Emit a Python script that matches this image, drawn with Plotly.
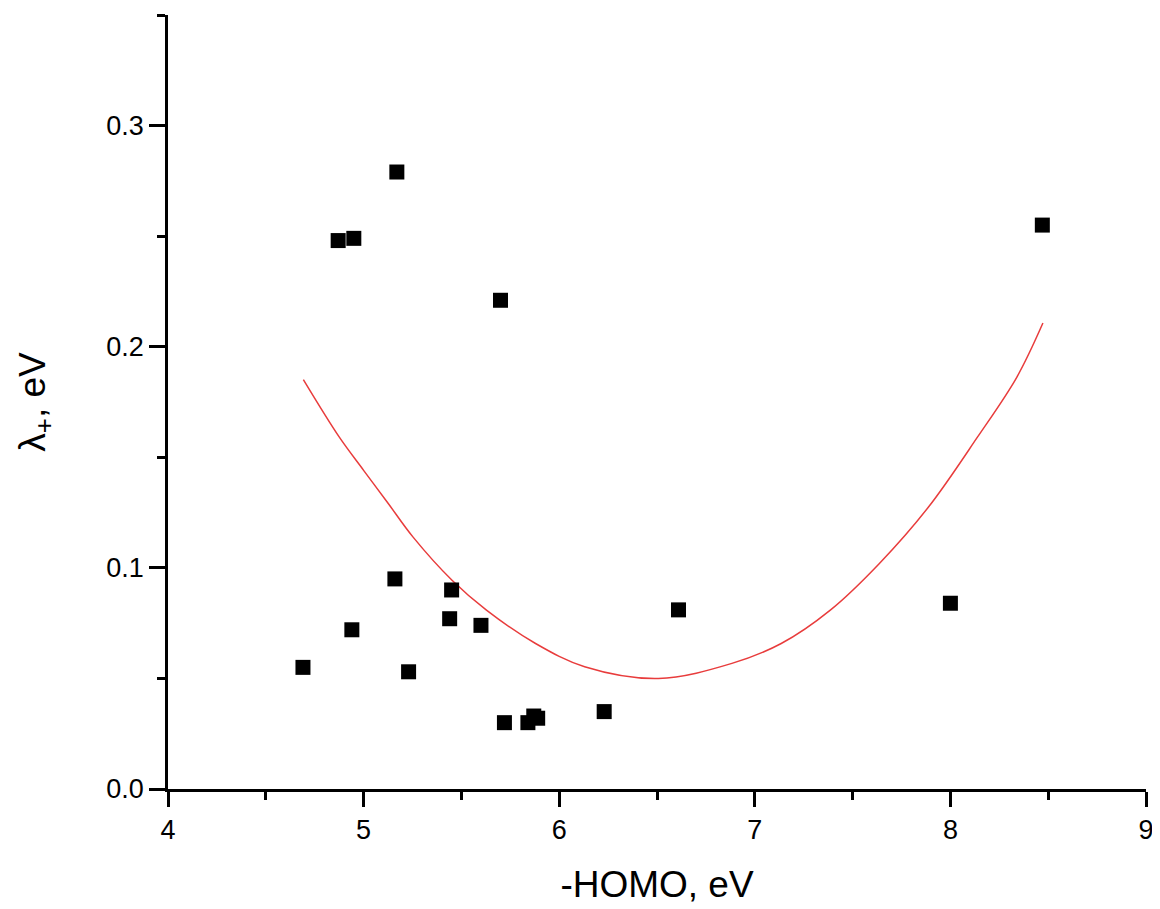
import plotly.graph_objects as go

homo = [4.69, 4.87, 4.95, 4.94, 5.17, 5.16, 5.23, 5.44, 5.45, 5.60,
        5.70, 5.72, 5.84, 5.87, 5.89, 6.23, 6.61, 8.00, 8.47]
lam = [0.055, 0.248, 0.249, 0.072, 0.279, 0.095, 0.053, 0.077, 0.090, 0.074,
       0.221, 0.030, 0.030, 0.033, 0.032, 0.035, 0.081, 0.084, 0.255]

fit_x = [4.692, 4.875, 5.000, 5.126, 5.252, 5.452, 5.628, 5.879, 6.130,
         6.507, 6.883, 7.135, 7.386, 7.637, 7.888, 8.139, 8.340, 8.473]
fit_y = [0.1851, 0.1592, 0.1441, 0.1291, 0.1140, 0.0944, 0.0809, 0.0658, 0.0553,
         0.0500, 0.0568, 0.0658, 0.0809, 0.1020, 0.1275, 0.1592, 0.1863, 0.2107]

fig = go.Figure()
fig.add_trace(go.Scatter(x=fit_x, y=fit_y, mode="lines",
                         line=dict(color="rgb(232,60,60)", width=1.5, shape="spline",
                                   smoothing=1.0),
                         showlegend=False, hoverinfo="skip"))
fig.add_trace(go.Scatter(x=homo, y=lam, mode="markers",
                         marker=dict(symbol="square", size=15, color="black",
                                     line=dict(width=0)),
                         showlegend=False))

font_family = "Liberation Sans, Arial, sans-serif"
fig.update_layout(
    width=1152, height=901,
    margin=dict(l=160, r=14, t=7, b=120),
    plot_bgcolor="white", paper_bgcolor="white",
    font=dict(family=font_family, color="black"),
    xaxis=dict(range=[4, 9], dtick=1, tick0=4, showgrid=False, zeroline=False,
               showline=True, linecolor="black", linewidth=2.5,
               ticks="outside", ticklen=15, tickwidth=2.5, tickcolor="black",
               minor=dict(dtick=0.5, tick0=4, ticks="outside", ticklen=8,
                          tickwidth=2.5, tickcolor="black", showgrid=False),
               tickfont=dict(size=27, family=font_family),
               title=dict(text="-HOMO, eV", font=dict(size=37, family=font_family),
                          standoff=27)),
    yaxis=dict(range=[0, 0.35], dtick=0.1, tick0=0, tickformat=".1f",
               showgrid=False, zeroline=False,
               showline=True, linecolor="black", linewidth=2.5,
               ticks="outside", ticklen=16, tickwidth=2.5, tickcolor="black",
               minor=dict(dtick=0.05, tick0=0, ticks="outside", ticklen=8,
                          tickwidth=2.5, tickcolor="black", showgrid=False),
               tickfont=dict(size=27, family=font_family),
               title=dict(text="λ<sub>+</sub>, eV", font=dict(size=37, family=font_family),
                          standoff=50)),
)

fig.write_html("out.html", config={"displayModeBar": False})
